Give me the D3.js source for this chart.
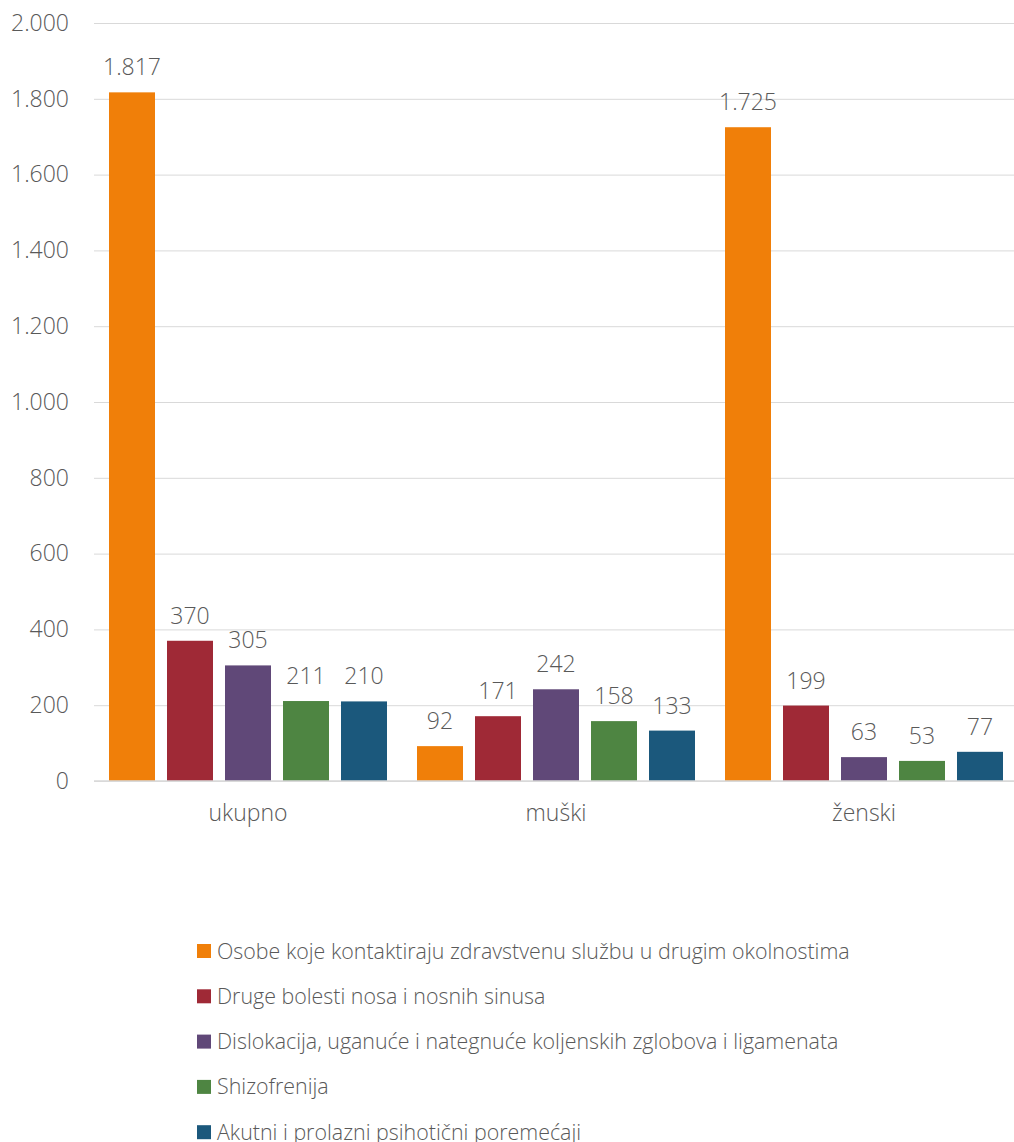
<!DOCTYPE html>
<html><head><meta charset="utf-8">
<script src="https://cdn.jsdelivr.net/npm/d3@7"></script>
<style>
body{margin:0;background:#fff;}
text{font-family:"Open Sans","Segoe UI",sans-serif;font-weight:300;fill:#595959;}
</style></head>
<body><svg id="c" width="1014" height="1142"></svg>
<script>
const categories = ["ukupno", "muški", "ženski"];
const seriesNames = [
  "Osobe koje kontaktiraju zdravstvenu službu u drugim okolnostima",
  "Druge bolesti nosa i nosnih sinusa",
  "Dislokacija, uganuće i nategnuće koljenskih zglobova i ligamenata",
  "Shizofrenija",
  "Akutni i prolazni psihotični poremećaji"
];
const osobe = [1817, 92, 1725];
const druge = [370, 171, 199];
const dislokacija = [305, 242, 63];
const shizofrenija = [211, 158, 53];
const akutni = [210, 133, 77];
const seriesValues = [osobe, druge, dislokacija, shizofrenija, akutni];
const colors = ["#F07F09", "#9F2936", "#604878", "#4E8542", "#1B587C"];
const yTicks = [0, 200, 400, 600, 800, 1000, 1200, 1400, 1600, 1800, 2000];

(function(){
const svg = d3.select("#c");
const mLeft = 94, mRight = 1018, mTop = 23, mBottom = 781;
const fmt = v => d3.format(",")(v).replace(/,/g, ".");

const y = d3.scaleLinear().domain([0, 2000]).range([mBottom, mTop]);
const x0 = d3.scaleBand().domain(categories).range([mLeft, mRight]).padding(0);
const gPad = 15;
const x1 = d3.scaleBand().domain(d3.range(seriesNames.length))
  .range([gPad, x0.bandwidth() - gPad]).paddingInner(12/58).paddingOuter(0);

const yAxis = d3.axisLeft(y).tickValues(yTicks).tickSize(-(mRight - mLeft)).tickFormat(fmt).tickPadding(25);
const ga = svg.append("g").attr("transform", `translate(${mLeft},0)`).call(yAxis);
ga.select(".domain").remove();
ga.selectAll(".tick line").attr("stroke", "#d9d9d9").attr("stroke-width", 1);
ga.selectAll(".tick text").style("font-size", "23px").attr("fill", "#595959");

const groups = svg.append("g").selectAll("g").data(categories).join("g")
  .attr("transform", d => `translate(${x0(d)},0)`);
groups.each(function(cat, ci) {
  const g = d3.select(this);
  seriesValues.forEach((vals, si) => {
    const v = vals[ci];
    g.append("rect").attr("x", x1(si)).attr("width", x1.bandwidth())
      .attr("y", y(v)).attr("height", y(0) - y(v)).attr("fill", colors[si]);
    g.append("text").attr("x", x1(si) + x1.bandwidth() / 2).attr("y", y(v) - 17)
      .attr("text-anchor", "middle").style("font-size", "23px").text(fmt(v));
  });
});

svg.append("line").attr("x1", mLeft).attr("x2", mRight).attr("y1", y(0)).attr("y2", y(0))
  .attr("stroke", "#d9d9d9").attr("stroke-width", 1.5);

const xAxis = d3.axisBottom(x0).tickSize(0).tickPadding(24);
const gx = svg.append("g").attr("transform", `translate(0,${mBottom})`).call(xAxis);
gx.select(".domain").remove();
gx.selectAll(".tick text").style("font-size", "23px").attr("fill", "#595959");

const leg = svg.append("g").selectAll("g").data(seriesNames).join("g")
  .attr("transform", (d, i) => `translate(197,${951 + i * 45.3})`);
leg.append("rect").attr("x", 0).attr("y", -7).attr("width", 14).attr("height", 14)
  .attr("fill", (d, i) => colors[i]);
leg.append("text").attr("x", 20).attr("y", 0).attr("dy", "0.35em")
  .style("font-size", "21.4px").text(d => d);
})();
</script></body></html>
